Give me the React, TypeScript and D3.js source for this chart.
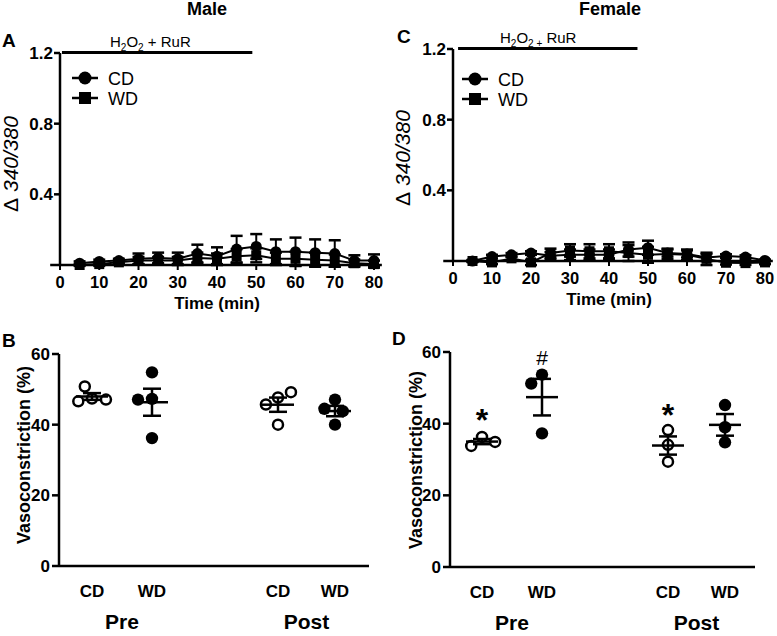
import React from 'react';
import * as d3 from 'd3';

const FONT = '"Liberation Sans", Arial, Helvetica, sans-serif';

// ---------- Time course data (Δ 340/380) ----------
const times = [5, 10, 15, 20, 25, 30, 35, 40, 45, 50, 55, 60, 65, 70, 75, 80];
const timeTicks = [0, 10, 20, 30, 40, 50, 60, 70, 80];
const ratioTicks = [0.4, 0.8, 1.2];

const maleCD = [0.01, 0.02, 0.025, 0.035, 0.04, 0.035, 0.065, 0.05, 0.09, 0.105, 0.075, 0.075, 0.07, 0.065, 0.025, 0.025];
const maleCDErr = [0.01, 0.01, 0.01, 0.03, 0.03, 0.035, 0.05, 0.05, 0.075, 0.07, 0.07, 0.08, 0.075, 0.075, 0.03, 0.035];
const maleWD = [0, 0.005, 0.015, 0.025, 0.025, 0.025, 0.04, 0.035, 0.05, 0.055, 0.035, 0.035, 0.03, 0.025, 0.01, 0.005];
const maleWDErr = [0.005, 0.01, 0.01, 0.02, 0.02, 0.02, 0.03, 0.03, 0.04, 0.04, 0.035, 0.04, 0.04, 0.035, 0.02, 0.02];

const femaleCD = [0.0, 0.025, 0.035, 0.045, 0.03, 0.035, 0.035, 0.035, 0.065, 0.075, 0.045, 0.04, 0.02, 0.028, 0.022, 0.003];
const femaleCDErr = [0.005, 0.01, 0.01, 0.01, 0.02, 0.03, 0.03, 0.03, 0.04, 0.04, 0.02, 0.02, 0.02, 0.01, 0.01, 0.005];
const femaleWD = [0.0, -0.008, 0.015, -0.008, 0.045, 0.06, 0.055, 0.055, 0.045, 0.035, 0.04, 0.035, 0.012, -0.01, -0.012, -0.008];
const femaleWDErr = [0.005, 0.01, 0.01, 0.015, 0.025, 0.035, 0.04, 0.04, 0.045, 0.045, 0.03, 0.03, 0.035, 0.01, 0.01, 0.01];

// treatment period (min)
const treatMale = [0.5, 49];
const treatFemale = [1.3, 47.3];

// ---------- Vasoconstriction data (%) ----------
const vasoTicks = [0, 20, 40, 60];
const groupLabels = ['CD', 'WD', 'CD', 'WD'];
const phaseLabels = ['Pre', 'Post'];
const groupSlots = [0, 1, 3.1, 4.05];

const malePreCD = [47.4, 46.6, 50.8, 47.1];
const malePreWD = [47.3, 54.8, 47.1, 36.2];
const malePostCD = [47.7, 45.7, 49.2, 40.0];
const malePostWD = [47.1, 44.5, 43.8, 40.0];

const femalePreCD = [36.3, 33.8, 34.9];
const femalePreWD = [53.7, 51.2, 37.3];
const femalePostCD = [38.2, 34.1, 29.4];
const femalePostWD = [45.2, 39.0, 34.8];

// significance marks: [group index, symbol, value position]
const femaleMarks: [number, string, number][] = [
  [0, '*', 43],
  [1, '#', 58.2],
  [2, '*', 44.3],
];

const mean = (a: number[]) => d3.mean(a) as number;
const sem = (a: number[]) => (d3.deviation(a) as number) / Math.sqrt(a.length);

function swarm(vals: number[], ys: (v: number) => number, d: number): number[] {
  const placed: { dx: number; y: number }[] = [];
  return vals.map((v) => {
    const y = ys(v);
    const cands = [0];
    placed.forEach((p) => {
      const dy = Math.abs(y - p.y);
      if (dy < d) {
        const w = Math.sqrt(d * d - dy * dy);
        cands.push(p.dx + w, p.dx - w);
      }
    });
    cands.sort((a, b) => Math.abs(a) - Math.abs(b) || a - b);
    let best = 0;
    for (const c of cands) {
      const ok = placed.every((p) => (c - p.dx) ** 2 + (y - p.y) ** 2 >= d * d - 0.01);
      if (ok) {
        best = c;
        break;
      }
    }
    placed.push({ dx: best, y });
    return best;
  });
}

type TCProps = {
  letter: string;
  letterX: number;
  title: string;
  titleX: number;
  x0: number;
  x1: number;
  yBase: number;
  yTop: number;
  cd: number[];
  cdErr: number[];
  wd: number[];
  wdErr: number[];
  treat: number[];
  treatLabelX: number;
  subPlus: boolean;
  ylabX: number;
  ylabY: number;
  legX: number;
  legY: number;
};

function TimeCourse(p: TCProps) {
  const x = d3.scaleLinear().domain([0, 80]).range([p.x0, p.x1]);
  const y = d3.scaleLinear().domain([0, 1.2]).range([p.yBase, p.yTop]);
  const line = d3
    .line<number>()
    .x((_, i) => x(times[i]))
    .y((d) => y(d));
  const series = [
    { vals: p.wd, err: p.wdErr, shape: 'square' },
    { vals: p.cd, err: p.cdErr, shape: 'circle' },
  ];
  const cap = 6;
  return (
    <g fontFamily={FONT}>
      <text x={p.letterX} y={p.yTop - 6} fontSize={19} fontWeight="bold">
        {p.letter}
      </text>
      <text x={p.titleX} y={15} fontSize={18} fontWeight="bold" textAnchor="middle">
        {p.title}
      </text>
      {/* treatment bar */}
      <line x1={x(p.treat[0])} x2={x(p.treat[1])} y1={y(1.2) - 0.5} y2={y(1.2) - 0.5} stroke="#000" strokeWidth={3} />
      <text x={p.treatLabelX} y={y(1.2) - 6} fontSize={15}>
        H<tspan dy={4} fontSize={10}>2</tspan>
        <tspan dy={-4}>O</tspan>
        {p.subPlus ? (
          <>
            <tspan dy={4} fontSize={10}>2 +</tspan>
            <tspan dy={-4}> RuR</tspan>
          </>
        ) : (
          <>
            <tspan dy={4} fontSize={10}>2</tspan>
            <tspan dy={-4}> + RuR</tspan>
          </>
        )}
      </text>
      {/* axes */}
      <line x1={x(0)} x2={x(0)} y1={y(1.2)} y2={y(0)} stroke="#000" strokeWidth={2.5} />
      <line x1={x(-2.5)} x2={x(82)} y1={y(0)} y2={y(0)} stroke="#000" strokeWidth={2.5} />
      {ratioTicks.map((t) => (
        <g key={t}>
          <line x1={x(0) - 6} x2={x(0)} y1={y(t)} y2={y(t)} stroke="#000" strokeWidth={2.5} />
          <text x={x(0) - 7} y={y(t)} dy="0.36em" fontSize={17} fontWeight="bold" textAnchor="end">
            {t.toFixed(1)}
          </text>
        </g>
      ))}
      {timeTicks.map((t) => (
        <g key={t}>
          <line x1={x(t)} x2={x(t)} y1={y(0)} y2={y(0) + 5} stroke="#000" strokeWidth={2} />
          <text x={x(t)} y={y(0) + 23} fontSize={16.5} fontWeight="bold" textAnchor="middle">
            {t}
          </text>
        </g>
      ))}
      <text x={x(40)} y={y(0) + 44} fontSize={17} fontWeight="bold" textAnchor="middle">
        Time (min)
      </text>
      <text transform={`translate(${p.ylabX},${p.ylabY}) rotate(-90)`} fontSize={21} textAnchor="middle">
        Δ<tspan fontStyle="italic"> 340/380</tspan>
      </text>
      {/* data */}
      {series.map((s, si) => (
        <g key={si}>
          <path d={line(s.vals) as string} fill="none" stroke="#000" strokeWidth={2} />
          {s.vals.map((v, i) => (
            <g key={i}>
              <line x1={x(times[i])} x2={x(times[i])} y1={y(v - s.err[i])} y2={y(v + s.err[i])} stroke="#000" strokeWidth={2} />
              <line x1={x(times[i]) - cap} x2={x(times[i]) + cap} y1={y(v + s.err[i])} y2={y(v + s.err[i])} stroke="#000" strokeWidth={2.5} />
              <line x1={x(times[i]) - cap} x2={x(times[i]) + cap} y1={y(v - s.err[i])} y2={y(v - s.err[i])} stroke="#000" strokeWidth={2.5} />
              {s.shape === 'circle' ? (
                <circle cx={x(times[i])} cy={y(v)} r={5.5} fill="#000" />
              ) : (
                <rect x={x(times[i]) - 5} y={y(v) - 5} width={10} height={10} fill="#000" />
              )}
            </g>
          ))}
        </g>
      ))}
      {/* legend */}
      {['CD', 'WD'].map((lab, i) => {
        const cy = p.legY + i * 20;
        return (
          <g key={lab}>
            <line x1={p.legX - 13} x2={p.legX + 13} y1={cy} y2={cy} stroke="#000" strokeWidth={2.5} />
            {i === 0 ? (
              <circle cx={p.legX} cy={cy} r={6.5} fill="#000" />
            ) : (
              <rect x={p.legX - 6} y={cy - 6} width={12} height={12} fill="#000" />
            )}
            <text x={p.legX + 23} y={cy + 6.5} fontSize={18}>
              {lab}
            </text>
          </g>
        );
      })}
    </g>
  );
}

type DPProps = {
  letter: string;
  letterX: number;
  axisX: number;
  axisEnd: number;
  yBase: number;
  yTop: number;
  slot0: number;
  groups: number[][];
  marks: [number, string, number][];
  ylabX: number;
  ylabY: number;
};

function DotPlot(p: DPProps) {
  const y = d3.scaleLinear().domain([0, 60]).range([p.yBase, p.yTop]);
  const sx = d3.scaleLinear().domain([0, 1]).range([p.slot0, p.slot0 + 60]);
  return (
    <g fontFamily={FONT}>
      <text x={p.letterX} y={p.yTop - 7} fontSize={19} fontWeight="bold">
        {p.letter}
      </text>
      <line x1={p.axisX} x2={p.axisX} y1={y(60)} y2={y(0)} stroke="#000" strokeWidth={2.5} />
      <line x1={p.axisX} x2={p.axisEnd} y1={y(0)} y2={y(0)} stroke="#000" strokeWidth={2.5} />
      {vasoTicks.map((t) => (
        <g key={t}>
          <line x1={p.axisX - 7} x2={p.axisX} y1={y(t)} y2={y(t)} stroke="#000" strokeWidth={2.5} />
          <text x={p.axisX - 9} y={y(t)} dy="0.36em" fontSize={17} fontWeight="bold" textAnchor="end">
            {t}
          </text>
        </g>
      ))}
      <text transform={`translate(${p.ylabX},${p.ylabY}) rotate(-90)`} fontSize={18} fontWeight="bold" textAnchor="middle">
        Vasoconstriction (%)
      </text>
      {groupLabels.map((g, i) => (
        <text key={i} x={sx(groupSlots[i])} y={y(0) + 31} fontSize={17} fontWeight="bold" textAnchor="middle">
          {g}
        </text>
      ))}
      {phaseLabels.map((ph, i) => (
        <text
          key={ph}
          x={(sx(groupSlots[i * 2]) + sx(groupSlots[i * 2 + 1])) / 2}
          y={y(0) + 63}
          fontSize={21}
          fontWeight="bold"
          textAnchor="middle"
        >
          {ph}
        </text>
      ))}
      {p.groups.map((vals, gi) => {
        const cx = sx(groupSlots[gi]);
        const offs = swarm(vals, y, 14);
        const m = mean(vals);
        const e = sem(vals);
        const open = gi % 2 === 0;
        return (
          <g key={gi}>
            {vals.map((v, i) =>
              open ? (
                <circle key={i} cx={cx + offs[i]} cy={y(v)} r={5} fill="#fff" stroke="#000" strokeWidth={2.5} />
              ) : (
                <circle key={i} cx={cx + offs[i]} cy={y(v)} r={6.2} fill="#000" />
              )
            )}
            <line x1={cx - 16} x2={cx + 16} y1={y(m)} y2={y(m)} stroke="#000" strokeWidth={2.5} />
            <line x1={cx} x2={cx} y1={y(m - e)} y2={y(m + e)} stroke="#000" strokeWidth={2.5} />
            <line x1={cx - 9} x2={cx + 9} y1={y(m + e)} y2={y(m + e)} stroke="#000" strokeWidth={2.5} />
            <line x1={cx - 9} x2={cx + 9} y1={y(m - e)} y2={y(m - e)} stroke="#000" strokeWidth={2.5} />
          </g>
        );
      })}
      {p.marks.map(([gi, sym, v], i) =>
        sym === '*' ? (
          <text key={i} x={sx(groupSlots[gi])} y={y(v) + 18} fontSize={32} fontWeight="bold" textAnchor="middle">
            *
          </text>
        ) : (
          <text key={i} x={sx(groupSlots[gi])} y={y(v) + 7} fontSize={21} textAnchor="middle">
            {sym}
          </text>
        )
      )}
    </g>
  );
}

export default function App() {
  return (
    <svg width={777} height={636} style={{ position: 'absolute', left: 0, top: 0, background: '#fff' }}>
      <rect width={777} height={636} fill="#fff" />
      <TimeCourse
        letter="A"
        letterX={2}
        title="Male"
        titleX={207}
        x0={60}
        x1={374}
        yBase={265}
        yTop={53}
        cd={maleCD}
        cdErr={maleCDErr}
        wd={maleWD}
        wdErr={maleWDErr}
        treat={treatMale}
        treatLabelX={110}
        subPlus={false}
        ylabX={18}
        ylabY={164}
        legX={85}
        legY={78}
      />
      <TimeCourse
        letter="C"
        letterX={397}
        title="Female"
        titleX={610}
        x0={453}
        x1={765}
        yBase={261}
        yTop={49}
        cd={femaleCD}
        cdErr={femaleCDErr}
        wd={femaleWD}
        wdErr={femaleWDErr}
        treat={treatFemale}
        treatLabelX={500}
        subPlus={true}
        ylabX={410}
        ylabY={158}
        legX={475}
        legY={79}
      />
      <DotPlot
        letter="B"
        letterX={2}
        axisX={59}
        axisEnd={369}
        yBase={566}
        yTop={354}
        slot0={92}
        groups={[malePreCD, malePreWD, malePostCD, malePostWD]}
        marks={[]}
        ylabX={30}
        ylabY={455}
      />
      <DotPlot
        letter="D"
        letterX={392}
        axisX={450}
        axisEnd={755}
        yBase={567}
        yTop={352}
        slot0={482}
        groups={[femalePreCD, femalePreWD, femalePostCD, femalePostWD]}
        marks={femaleMarks}
        ylabX={422}
        ylabY={460}
      />
    </svg>
  );
}
